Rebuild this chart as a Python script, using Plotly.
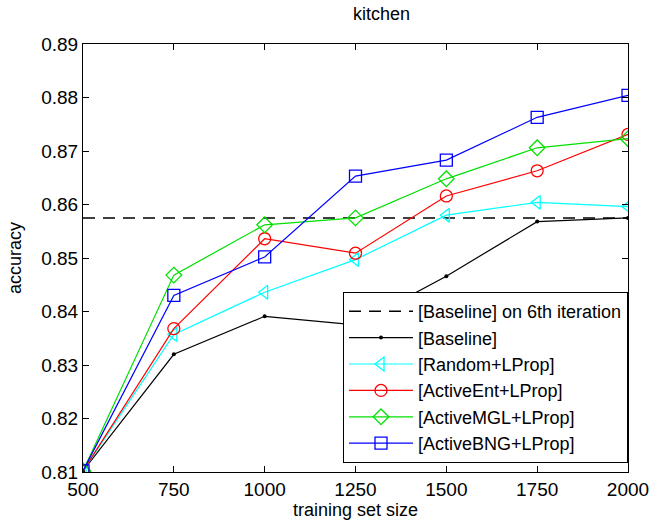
import plotly.graph_objects as go

sizes = [500, 750, 1000, 1250, 1500, 1750, 2000]
baseline_6th = 0.8575
baseline = [0.8102, 0.8320, 0.8391, 0.8375, 0.8466, 0.8568, 0.8575]
random_lprop = [0.8102, 0.8357, 0.8436, 0.8497, 0.8580, 0.8604, 0.8596]
activeent = [0.8102, 0.8368, 0.8536, 0.8509, 0.8616, 0.8663, 0.8731]
activemgl = [0.8102, 0.8468, 0.8562, 0.8575, 0.8648, 0.8706, 0.8723]
activebng = [0.8102, 0.8430, 0.8502, 0.8653, 0.8683, 0.8763, 0.8804]

FONT = "Liberation Sans, Arial, sans-serif"

fig = go.Figure()
fig.add_trace(go.Scatter(x=[sizes[0], sizes[-1]], y=[baseline_6th, baseline_6th], mode="lines",
                         name="[Baseline] on 6th iteration",
                         line=dict(color="black", width=1.5, dash="12px,8px")))
fig.add_trace(go.Scatter(x=sizes, y=baseline, mode="lines+markers", name="[Baseline]",
                         line=dict(color="black", width=1.2),
                         marker=dict(symbol="circle", size=4, color="black")))
series = [
    ("[Random+LProp]", random_lprop, "#00ffff", "triangle-left-open"),
    ("[ActiveEnt+LProp]", activeent, "#ff0000", "circle-open"),
    ("[ActiveMGL+LProp]", activemgl, "#00e000", "diamond-open"),
    ("[ActiveBNG+LProp]", activebng, "#0000ff", "square-open"),
]
for name, vals, col, sym in series:
    fig.add_trace(go.Scatter(x=sizes, y=vals, mode="lines+markers", name=name,
                             line=dict(color=col, width=1.2),
                             marker=dict(symbol=sym, size=12, color=col,
                                         line=dict(color=col, width=1.3))))

axis_common = dict(showgrid=False, zeroline=False, showline=True, linecolor="black",
                   linewidth=1, mirror="ticks", ticks="inside", ticklen=6,
                   tickcolor="black", tickfont=dict(family=FONT, size=19, color="black"),
                   automargin=False, ticklabeloverflow="allow")
fig.update_xaxes(range=[500, 2000], tickvals=sizes, ticktext=[str(s) for s in sizes],
                 title=dict(text="training set size", font=dict(family=FONT, size=18, color="black"),
                            standoff=4),
                 **axis_common)
fig.update_yaxes(range=[0.81, 0.89], dtick=0.01, tickformat=".2f",
                 title=dict(text="accuracy", font=dict(family=FONT, size=18, color="black"),
                            standoff=14),
                 **axis_common)
fig.update_layout(
    width=649, height=527,
    margin=dict(l=83, r=21, t=44, b=55),
    paper_bgcolor="white", plot_bgcolor="white",
    title=dict(text="kitchen", x=(83 + 628) / 2 / 649, xref="paper", xanchor="center",
               y=1 - 14 / 527, yanchor="middle",
               font=dict(family=FONT, size=18, color="black")),
    legend=dict(x=1.0, y=0.021, xanchor="right", yanchor="bottom",
                bgcolor="white", bordercolor="black", borderwidth=1,
                font=dict(family=FONT, size=18, color="black"),
                tracegroupgap=0, itemwidth=64),
    showlegend=True,
)
fig.write_html("out.html")
